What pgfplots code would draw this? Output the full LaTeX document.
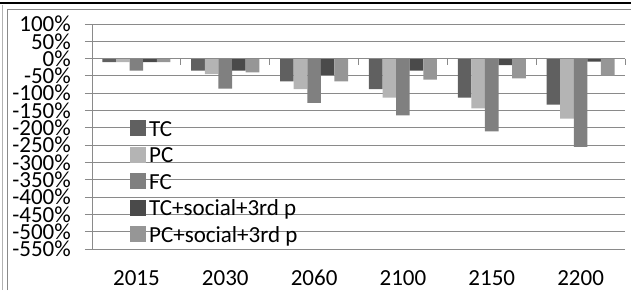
\documentclass[border=0pt]{standalone}
\usepackage{fontspec}
\setmainfont{Carlito}
\usepackage{pgfplots}
\pgfplotsset{compat=1.18}
\definecolor{cTC}{RGB}{96,96,96}
\definecolor{cPC}{RGB}{180,180,180}
\definecolor{cFC}{RGB}{128,128,128}
\definecolor{cTCs}{RGB}{74,74,74}
\definecolor{cPCs}{RGB}{150,150,150}
\definecolor{gridc}{RGB}{138,138,138}
\begin{document}
\begin{tikzpicture}[x=1pt,y=1pt,font=\fontsize{23}{28}\selectfont]
\useasboundingbox (0,0) rectangle (631,290);
\draw[black,line width=1.6pt] (0,287) -- (631,287);
\draw[gray!60,line width=0.8pt] (2.5,285) -- (2.5,0);
\draw[gridc,line width=1pt] (7,0) -- (7,280) -- (631,280);
\begin{axis}[
  at={(92pt,41pt)}, anchor=south west,
  scale only axis, width=533pt, height=225pt,
  ybar=0pt, bar width=13.6pt,
  xmin=-0.5, xmax=5.5,
  ymin=-550, ymax=100,
  xtick={0,1,2,3,4,5},
  xticklabels={2015,2030,2060,2100,2150,2200},
  ytick={-550,-500,...,100},
  yticklabels={-550\%,-500\%,-450\%,-400\%,-350\%,-300\%,-250\%,-200\%,-150\%,-100\%,-50\%,0\%,50\%,100\%},
  axis y line*=left, axis x line*=bottom,
  x axis line style={draw=none},
  y axis line style={draw=gridc, line width=1pt, -},
  xtick style={draw=none},
  ytick style={draw=gridc, line width=1pt},
  tick align=outside, major tick length=7pt,
  ymajorgrids, grid style={draw=gridc, line width=1pt},
  tick label style={font=\fontsize{23}{28}\selectfont},
  yticklabel style={inner sep=0pt, anchor=east, xshift=-14pt},
  xticklabel style={inner sep=0pt, anchor=north, yshift=-14pt},
  legend cell align=left,
  legend style={at={(0.0713,0.573)}, anchor=north west, draw=none, fill=none,
    inner sep=0pt, row sep=6.5pt, column sep=3pt,
    font=\fontsize{23}{28}\selectfont,
    nodes={inner sep=0pt, text height=16pt, text depth=4pt}},
  legend image code/.code={\fill[#1] (0pt,-6pt) rectangle (16pt,10pt);},
  clip=false,
]
\addplot[fill=cTC, draw=none] coordinates {(0,-10) (1,-35) (2,-66) (3,-88) (4,-113) (5,-133)};
\addplot[fill=cPC, draw=none] coordinates {(0,-10) (1,-45) (2,-88) (3,-113) (4,-144) (5,-173)};
\addplot[fill=cFC, draw=none] coordinates {(0,-35) (1,-87) (2,-128) (3,-164) (4,-210) (5,-255)};
\addplot[fill=cTCs, draw=none] coordinates {(0,-10) (1,-35) (2,-47) (3,-35) (4,-19) (5,-9)};
\addplot[fill=cPCs, draw=none] coordinates {(0,-10) (1,-40) (2,-66) (3,-61) (4,-57) (5,-49)};
\legend{TC,PC,FC,TC+social+3rd p,PC+social+3rd p}
\draw[gridc, line width=1.1pt] (axis cs:-0.5,0) -- (axis cs:5.5,0);
\pgfplotsinvokeforeach{0.5,1.5,2.5,3.5,4.5,5.5}{
  \draw[gridc, line width=1pt] (axis cs:#1,0) -- ++(0pt,-6pt);
}
\end{axis}
\end{tikzpicture}
\end{document}
